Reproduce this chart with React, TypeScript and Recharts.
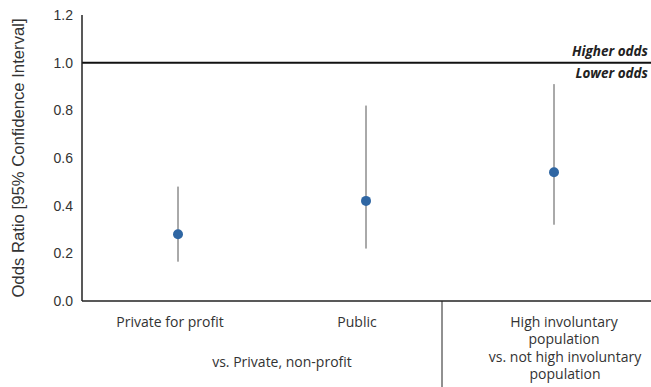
import React from 'react';
import {
  ComposedChart,
  Scatter,
  ErrorBar,
  XAxis,
  YAxis,
  ReferenceLine,
} from 'recharts';

// values
const categories = ['Private for profit', 'Public', 'High involuntary population'];
const oddsRatios = [0.28, 0.42, 0.54];
const ciLower = [0.165, 0.22, 0.32];
const ciUpper = [0.48, 0.82, 0.91];
const yTicks = [0, 0.2, 0.4, 0.6, 0.8, 1.0, 1.2];

const categoryLines = [['Private for profit'], ['Public'], ['High involuntary', 'population']];
const groupLines: string[][] = [[], ['vs. Private, non-profit'], ['vs. not high involuntary', 'population']];

const chartData = categories.map((name, i) => ({
  name,
  or: oddsRatios[i],
  ci: [oddsRatios[i] - ciLower[i], ciUpper[i] - oddsRatios[i]],
}));

const DOT = '#2f66a3';
const TEXT = '#333';
const labelFont = '"Open Sans", sans-serif';

// small nudges so the text sits where the original put it
const catDx = [-8, -9, 10];
const groupDx = [0, -84, 11];

const CategoryTick = (props: any) => {
  const { x, index } = props;
  const axisY = 301;
  const lines = categoryLines[index] || [];
  const group = groupLines[index] || [];
  return (
    <g>
      {lines.map((t, i) => (
        <text
          key={'c' + i}
          x={x + catDx[index]}
          y={axisY + 26 + i * 17}
          textAnchor="middle"
          fontFamily={labelFont}
          fontSize={14}
          fill={TEXT}
        >
          {t}
        </text>
      ))}
      {group.map((t, i) => (
        <text
          key={'g' + i}
          x={x + groupDx[index]}
          y={axisY + (index === 1 ? 66 : 61) + i * 17}
          textAnchor="middle"
          fontFamily={labelFont}
          fontSize={14}
          fill={TEXT}
        >
          {t}
        </text>
      ))}
      {index === 2 && (
        <line x1={x - 112} x2={x - 112} y1={axisY} y2={387} stroke="#222" strokeWidth={1} />
      )}
    </g>
  );
};

const OddsLabel = (props: any) => {
  const { viewBox } = props;
  const right = viewBox.x + viewBox.width - 3;
  return (
    <g fontFamily={labelFont} fontSize={13.5} fontWeight="bold" fontStyle="italic" fill="#222">
      <text x={right} y={viewBox.y - 7} textAnchor="end">Higher odds</text>
      <text x={right} y={viewBox.y + 15} textAnchor="end">Lower odds</text>
    </g>
  );
};

const Dot = (props: any) => <circle cx={props.cx} cy={props.cy} r={5} fill={DOT} />;

export default function App() {
  return (
    <div style={{ position: 'absolute', left: 0, top: 0, background: '#fff' }}>
      <ComposedChart
        width={651}
        height={387}
        data={chartData}
        margin={{ top: 15, right: 0, left: 0, bottom: 0 }}
      >
        <XAxis
          dataKey="name"
          type="category"
          height={86}
          padding={{ left: 96, right: 97 }}
          axisLine={{ stroke: '#222', strokeWidth: 1.5 }}
          tickLine={false}
          tick={<CategoryTick />}
          interval={0}
        />
        <YAxis
          type="number"
          domain={[0, 1.2]}
          ticks={yTicks}
          width={82}
          tickFormatter={(v: number) => v.toFixed(1)}
          axisLine={{ stroke: '#222', strokeWidth: 1.5 }}
          tickLine={false}
          tickMargin={3}
          tick={{ fontFamily: '"Liberation Sans", Arial, sans-serif', fontSize: 14, fill: TEXT }}
          label={{
            value: 'Odds Ratio [95% Confidence Interval]',
            angle: -90,
            position: 'center',
            dx: -23,
            style: { fontFamily: '"Liberation Sans", Arial, sans-serif', fontSize: 16.7, fill: TEXT },
          }}
        />
        <ReferenceLine y={1} stroke="#111" strokeWidth={2} label={<OddsLabel />} />
        <Scatter dataKey="or" fill={DOT} shape={<Dot />} isAnimationActive={false}>
          <ErrorBar dataKey="ci" direction="y" width={0} stroke="#555" strokeWidth={1} />
        </Scatter>
      </ComposedChart>
    </div>
  );
}
